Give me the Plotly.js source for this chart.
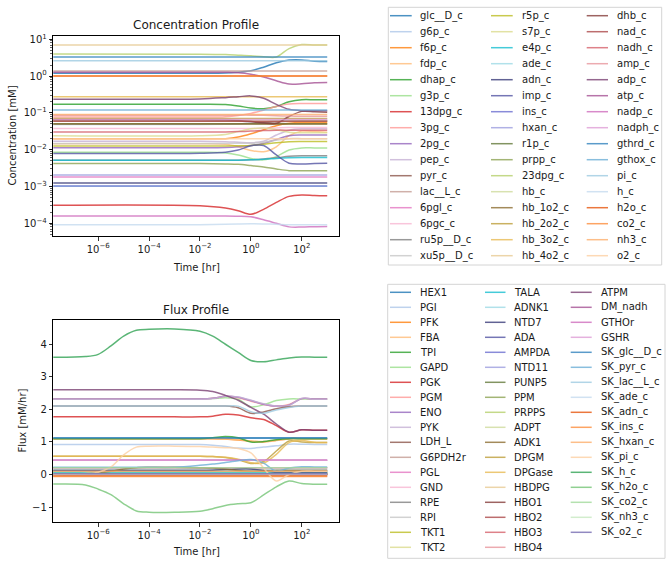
<!DOCTYPE html>
<html>
<head>
<meta charset="utf-8">
<script src="https://cdn.plot.ly/plotly-3.0.1.min.js"></script>
<style>html,body{margin:0;padding:0;background:#fff}</style>
</head>
<body>
<div id="chart" style="width:672px;height:565px"></div>
<script>
// ---------------- time grids [hr] ----------------
const concTime = [1e-8, 0.01, 0.1, 0.3162, 1, 3.162, 10, 31.62, 100, 316.2, 1000];
const fluxTime = [1e-8, 3.162e-7, 1e-6, 3.162e-6, 1e-5, 3.162e-5, 1e-4, 1e-3, 0.01, 0.03162, 0.1, 0.3162, 1, 3.162, 10, 31.62, 100, 316.2, 1000];

// decade exponents used for the log tick labels
const timeTickExp = [-6, -4, -2, 0, 2];
const concTickExp = [1, 0, -1, -2, -3, -4];

// ---------------- metabolite concentrations [mM] ----------------
const concNames = ['glc__D_c','g6p_c','f6p_c','fdp_c','dhap_c','g3p_c','13dpg_c','3pg_c','2pg_c','pep_c',
  'pyr_c','lac__L_c','6pgl_c','6pgc_c','ru5p__D_c','xu5p__D_c','r5p_c','s7p_c','e4p_c','ade_c',
  'adn_c','imp_c','ins_c','hxan_c','r1p_c','prpp_c','23dpg_c','hb_c','hb_1o2_c','hb_2o2_c',
  'hb_3o2_c','hb_4o2_c','dhb_c','nad_c','nadh_c','amp_c','adp_c','atp_c','nadp_c','nadph_c',
  'gthrd_c','gthox_c','pi_c','h_c','h2o_c','co2_c','nh3_c','o2_c'];

const conc_glc__D_c = [1.2, 1.2, 1.22, 1.28, 1.39, 1.75, 2.3, 2.72, 2.75, 2.55, 2.5];
const conc_g6p_c = [0.0486, 0.0486, 0.049, 0.05, 0.052, 0.056, 0.06, 0.062, 0.062, 0.062, 0.062];
const conc_f6p_c = [0.0198, 0.0198, 0.02, 0.022, 0.027, 0.035, 0.045, 0.052, 0.055, 0.055, 0.055];
const conc_fdp_c = [0.0146, 0.0146, 0.014, 0.012, 0.0095, 0.0088, 0.012, 0.024, 0.032, 0.031, 0.03];
const conc_dhap_c = [0.173, 0.173, 0.17, 0.155, 0.135, 0.13, 0.15, 0.2, 0.228, 0.228, 0.228];
const conc_g3p_c = [0.0085, 0.0085, 0.0082, 0.0072, 0.0058, 0.0053, 0.0065, 0.0098, 0.0112, 0.0112, 0.0112];
const conc_13dpg_c = [3.1e-4, 3.0e-4, 2.6e-4, 2.2e-4, 1.75e-4, 2.4e-4, 3.7e-4, 5.4e-4, 5.9e-4, 5.7e-4, 5.6e-4];
const conc_3pg_c = [0.077, 0.077, 0.079, 0.085, 0.097, 0.12, 0.15, 0.175, 0.18, 0.18, 0.18];
const conc_2pg_c = [0.0113, 0.0113, 0.0115, 0.012, 0.013, 0.015, 0.019, 0.024, 0.025, 0.025, 0.025];
const conc_pep_c = [0.017, 0.017, 0.0165, 0.016, 0.0155, 0.017, 0.025, 0.034, 0.037, 0.037, 0.037];
const conc_pyr_c = [0.0603, 0.0603, 0.0603, 0.06, 0.058, 0.056, 0.057, 0.059, 0.06, 0.06, 0.06];
const conc_lac__L_c = [1.37, 1.37, 1.37, 1.37, 1.37, 1.37, 1.37, 1.37, 1.37, 1.37, 1.37];
const conc_6pgl_c = [0.0018, 0.0018, 0.0018, 0.0018, 0.0018, 0.0018, 0.0018, 0.0018, 0.0018, 0.0018, 0.0018];
const conc_6pgc_c = [0.0375, 0.0375, 0.0375, 0.0376, 0.0378, 0.038, 0.039, 0.04, 0.04, 0.04, 0.04];
const conc_ru5p__D_c = [0.0052, 0.0052, 0.0052, 0.0052, 0.0053, 0.0056, 0.006, 0.0066, 0.0068, 0.0068, 0.0068];
const conc_xu5p__D_c = [0.0148, 0.0148, 0.0148, 0.0149, 0.015, 0.016, 0.018, 0.02, 0.02, 0.02, 0.02];
const conc_r5p_c = [0.0127, 0.0127, 0.0127, 0.0128, 0.013, 0.014, 0.0155, 0.0165, 0.0167, 0.0167, 0.0167];
const conc_s7p_c = [0.024, 0.024, 0.026, 0.031, 0.037, 0.039, 0.035, 0.03, 0.029, 0.029, 0.029];
const conc_e4p_c = [0.0052, 0.0052, 0.0052, 0.0052, 0.0053, 0.0055, 0.0058, 0.006, 0.0061, 0.0061, 0.0061];
const conc_ade_c = [0.00102, 0.00102, 0.00102, 0.00102, 0.00102, 0.00102, 0.00102, 0.00102, 0.00102, 0.00102, 0.00102];
const conc_adn_c = [0.00124, 0.00124, 0.00124, 0.00124, 0.00124, 0.00124, 0.00124, 0.00124, 0.00124, 0.00124, 0.00124];
const conc_imp_c = [0.0079, 0.008, 0.0085, 0.0098, 0.0128, 0.013, 0.0072, 0.0043, 0.0041, 0.0042, 0.0043];
const conc_ins_c = [0.00104, 0.00104, 0.00104, 0.00104, 0.00104, 0.00104, 0.00104, 0.00104, 0.00104, 0.00104, 0.00104];
const conc_hxan_c = [0.00204, 0.00204, 0.00204, 0.00204, 0.00204, 0.00204, 0.00204, 0.00204, 0.00204, 0.00204, 0.00204];
const conc_r1p_c = [0.0505, 0.0505, 0.0505, 0.0505, 0.0505, 0.0505, 0.0505, 0.0505, 0.0505, 0.0505, 0.0505];
const conc_prpp_c = [0.0042, 0.0042, 0.0041, 0.004, 0.0037, 0.0034, 0.003, 0.0027, 0.0027, 0.0027, 0.0027];
const conc_23dpg_c = [3.96, 3.95, 3.85, 3.7, 3.55, 3.35, 3.3, 5.6, 7.2, 7.0, 6.95];
const conc_hb_c = [0.0596, 0.0596, 0.0596, 0.0596, 0.0596, 0.0596, 0.0596, 0.0596, 0.0596, 0.0596, 0.0596];
const conc_hb_1o2_c = [0.05, 0.05, 0.05, 0.05, 0.05, 0.05, 0.05, 0.05, 0.05, 0.05, 0.05];
const conc_hb_2o2_c = [0.0704, 0.0704, 0.0704, 0.0704, 0.0704, 0.0704, 0.0704, 0.0704, 0.0704, 0.0704, 0.0704];
const conc_hb_3o2_c = [0.274, 0.274, 0.274, 0.274, 0.274, 0.274, 0.274, 0.274, 0.274, 0.274, 0.274];
const conc_hb_4o2_c = [6.95, 6.95, 6.95, 6.95, 6.95, 6.95, 6.95, 6.95, 6.95, 6.95, 6.95];
const conc_dhb_c = [0.065, 0.065, 0.064, 0.062, 0.058, 0.053, 0.052, 0.08, 0.11, 0.108, 0.105];
const conc_nad_c = [0.0589, 0.0589, 0.0589, 0.0589, 0.0589, 0.0589, 0.0589, 0.0589, 0.0589, 0.0589, 0.0589];
const conc_nadh_c = [0.0301, 0.0301, 0.0305, 0.031, 0.032, 0.033, 0.034, 0.034, 0.034, 0.034, 0.034];
const conc_amp_c = [0.0867, 0.0867, 0.0867, 0.087, 0.087, 0.086, 0.084, 0.082, 0.081, 0.081, 0.081];
const conc_adp_c = [0.237, 0.24, 0.26, 0.275, 0.29, 0.25, 0.17, 0.125, 0.115, 0.115, 0.115];
const conc_atp_c = [1.28, 1.28, 1.27, 1.24, 1.13, 0.95, 0.75, 0.61, 0.62, 0.66, 0.67];
const conc_nadp_c = [1.58e-4, 1.58e-4, 1.58e-4, 1.56e-4, 1.5e-4, 1.25e-4, 1.0e-4, 8.0e-5, 7.9e-5, 8.1e-5, 8.2e-5];
const conc_nadph_c = [0.0658, 0.0658, 0.0658, 0.0658, 0.0658, 0.0658, 0.0658, 0.0658, 0.0658, 0.0658, 0.0658];
const conc_gthrd_c = [3.28, 3.28, 3.28, 3.28, 3.28, 3.28, 3.28, 3.28, 3.28, 3.28, 3.28];
const conc_gthox_c = [0.12, 0.12, 0.12, 0.12, 0.12, 0.12, 0.12, 0.12, 0.12, 0.12, 0.12];
const conc_pi_c = [2.6, 2.6, 2.6, 2.6, 2.6, 2.6, 2.6, 2.6, 2.6, 2.6, 2.6];
const conc_h_c = [9.2e-5, 9.2e-5, 9.4e-5, 9.6e-5, 9.7e-5, 9.6e-5, 9.4e-5, 9.2e-5, 9.2e-5, 9.2e-5, 9.2e-5];
const conc_h2o_c = [1.0, 1.0, 1.0, 1.0, 1.0, 1.0, 1.0, 1.0, 1.0, 1.0, 1.0];
const conc_co2_c = [1.0, 1.0, 1.0, 1.0, 1.0, 1.0, 1.0, 1.0, 1.0, 1.0, 1.0];
const conc_nh3_c = [0.091, 0.091, 0.091, 0.091, 0.091, 0.091, 0.091, 0.091, 0.091, 0.091, 0.091];
const conc_o2_c = [0.02, 0.02, 0.02, 0.02, 0.02, 0.02, 0.02, 0.02, 0.02, 0.02, 0.02];

const concSeries = [conc_glc__D_c, conc_g6p_c, conc_f6p_c, conc_fdp_c, conc_dhap_c, conc_g3p_c, conc_13dpg_c,
  conc_3pg_c, conc_2pg_c, conc_pep_c, conc_pyr_c, conc_lac__L_c, conc_6pgl_c, conc_6pgc_c, conc_ru5p__D_c,
  conc_xu5p__D_c, conc_r5p_c, conc_s7p_c, conc_e4p_c, conc_ade_c, conc_adn_c, conc_imp_c, conc_ins_c,
  conc_hxan_c, conc_r1p_c, conc_prpp_c, conc_23dpg_c, conc_hb_c, conc_hb_1o2_c, conc_hb_2o2_c, conc_hb_3o2_c,
  conc_hb_4o2_c, conc_dhb_c, conc_nad_c, conc_nadh_c, conc_amp_c, conc_adp_c, conc_atp_c, conc_nadp_c,
  conc_nadph_c, conc_gthrd_c, conc_gthox_c, conc_pi_c, conc_h_c, conc_h2o_c, conc_co2_c, conc_nh3_c, conc_o2_c];

// ---------------- reaction fluxes [mM/hr] ----------------
const fluxNames = ['HEX1','PGI','PFK','FBA','TPI','GAPD','PGK','PGM','ENO','PYK',
  'LDH_L','G6PDH2r','PGL','GND','RPE','RPI','TKT1','TKT2','TALA','ADNK1',
  'NTD7','ADA','AMPDA','NTD11','PUNP5','PPM','PRPPS','ADPT','ADK1','DPGM',
  'DPGase','HBDPG','HBO1','HBO2','HBO3','HBO4','ATPM','DM_nadh','GTHOr','GSHR',
  'SK_glc__D_c','SK_pyr_c','SK_lac__L_c','SK_ade_c','SK_adn_c','SK_ins_c','SK_hxan_c','SK_pi_c','SK_h_c','SK_h2o_c',
  'SK_co2_c','SK_nh3_c','SK_o2_c'];

const flux_HEX1 = [1.12, 1.12, 1.12, 1.12, 1.12, 1.12, 1.12, 1.12, 1.12, 1.12, 1.12, 1.12, 1.12, 1.12, 1.12, 1.12, 1.12, 1.12, 1.12];
const flux_PGI = [0.92, 0.92, 0.92, 0.92, 0.92, 0.92, 0.92, 0.92, 0.92, 0.9, 0.86, 0.81, 0.8, 0.84, 0.88, 0.93, 0.93, 0.92, 0.92];
const flux_PFK = [1.1, 1.1, 1.1, 1.1, 1.1, 1.1, 1.1, 1.1, 1.1, 1.1, 1.09, 1.06, 1.02, 1.0, 1.05, 1.1, 1.1, 1.1, 1.1];
const flux_FBA = [1.1, 1.1, 1.1, 1.1, 1.1, 1.1, 1.1, 1.1, 1.1, 1.1, 1.09, 1.07, 1.03, 1.01, 1.04, 1.09, 1.1, 1.1, 1.1];
const flux_TPI = [1.1, 1.1, 1.1, 1.1, 1.1, 1.1, 1.1, 1.1, 1.1, 1.13, 1.17, 1.13, 1.0, 1.01, 1.07, 1.1, 1.1, 1.1, 1.1];
const flux_GAPD = [2.32, 2.32, 2.32, 2.32, 2.32, 2.32, 2.32, 2.32, 2.32, 2.33, 2.36, 2.31, 2.08, 2.14, 2.27, 2.32, 2.32, 2.32, 2.32];
const flux_PGK = [1.77, 1.77, 1.77, 1.77, 1.77, 1.77, 1.77, 1.77, 1.77, 1.79, 1.85, 1.83, 1.74, 1.69, 1.5, 1.3, 1.37, 1.36, 1.36];
const flux_PGM = [2.32, 2.32, 2.32, 2.32, 2.32, 2.32, 2.32, 2.32, 2.32, 2.34, 2.4, 2.36, 2.25, 2.15, 2.1, 2.15, 2.33, 2.32, 2.32];
const flux_ENO = [2.32, 2.32, 2.32, 2.32, 2.32, 2.32, 2.32, 2.32, 2.32, 2.34, 2.4, 2.37, 2.27, 2.16, 2.1, 2.13, 2.33, 2.32, 2.32];
const flux_PYK = [2.31, 2.31, 2.31, 2.31, 2.31, 2.31, 2.31, 2.31, 2.31, 2.33, 2.4, 2.38, 2.28, 2.17, 2.1, 2.12, 2.34, 2.31, 2.31];
const flux_LDH_L = [2.1, 2.1, 2.1, 2.1, 2.1, 2.1, 2.1, 2.1, 2.1, 2.1, 2.1, 2.05, 1.88, 1.92, 2.02, 2.08, 2.1, 2.1, 2.1];
const flux_G6PDH2r = [0.21, 0.21, 0.21, 0.21, 0.21, 0.21, 0.21, 0.21, 0.21, 0.21, 0.21, 0.21, 0.21, 0.21, 0.21, 0.21, 0.21, 0.21, 0.21];
const flux_PGL = [0.21, 0.21, 0.21, 0.21, 0.21, 0.21, 0.21, 0.21, 0.21, 0.21, 0.21, 0.21, 0.21, 0.21, 0.21, 0.21, 0.21, 0.21, 0.21];
const flux_GND = [0.21, 0.21, 0.21, 0.21, 0.21, 0.21, 0.21, 0.21, 0.21, 0.21, 0.21, 0.21, 0.21, 0.21, 0.21, 0.21, 0.21, 0.21, 0.21];
const flux_RPE = [0.13, 0.13, 0.13, 0.13, 0.13, 0.13, 0.13, 0.13, 0.13, 0.13, 0.13, 0.13, 0.13, 0.13, 0.13, 0.13, 0.13, 0.13, 0.13];
const flux_RPI = [0.07, 0.07, 0.07, 0.07, 0.07, 0.07, 0.07, 0.07, 0.07, 0.07, 0.07, 0.07, 0.07, 0.07, 0.07, 0.07, 0.07, 0.07, 0.07];
const flux_TKT1 = [0.065, 0.065, 0.065, 0.065, 0.065, 0.065, 0.065, 0.065, 0.065, 0.065, 0.065, 0.065, 0.065, 0.065, 0.065, 0.065, 0.065, 0.065, 0.065];
const flux_TKT2 = [0.065, 0.065, 0.065, 0.065, 0.065, 0.065, 0.065, 0.065, 0.065, 0.065, 0.065, 0.065, 0.065, 0.065, 0.065, 0.065, 0.065, 0.065, 0.065];
const flux_TALA = [0.065, 0.065, 0.065, 0.065, 0.065, 0.065, 0.065, 0.065, 0.065, 0.065, 0.065, 0.065, 0.065, 0.065, 0.065, 0.065, 0.065, 0.065, 0.065];
const flux_ADNK1 = [0.12, 0.12, 0.12, 0.12, 0.12, 0.12, 0.12, 0.12, 0.12, 0.12, 0.12, 0.12, 0.12, 0.12, 0.12, 0.12, 0.12, 0.12, 0.12];
const flux_NTD7 = [0.12, 0.12, 0.12, 0.12, 0.12, 0.12, 0.12, 0.12, 0.12, 0.13, 0.15, 0.17, 0.17, 0.12, 0.06, 0.05, 0.05, 0.05, 0.05];
const flux_ADA = [0.02, 0.02, 0.02, 0.02, 0.02, 0.02, 0.02, 0.02, 0.02, 0.02, 0.02, 0.02, 0.02, 0.02, 0.02, 0.02, 0.02, 0.02, 0.02];
const flux_AMPDA = [0.014, 0.014, 0.014, 0.014, 0.014, 0.014, 0.014, 0.014, 0.014, 0.014, 0.014, 0.014, 0.014, 0.014, 0.014, 0.014, 0.014, 0.014, 0.014];
const flux_NTD11 = [0.014, 0.014, 0.014, 0.014, 0.014, 0.014, 0.014, 0.014, 0.014, 0.014, 0.014, 0.014, 0.014, 0.014, 0.014, 0.014, 0.014, 0.014, 0.014];
const flux_PUNP5 = [0.01, 0.01, 0.01, 0.01, 0.01, 0.01, 0.01, 0.01, 0.01, 0.01, 0.01, 0.01, 0.01, 0.01, 0.01, 0.01, 0.01, 0.01, 0.01];
const flux_PPM = [0.01, 0.01, 0.01, 0.01, 0.01, 0.01, 0.01, 0.01, 0.01, 0.01, 0.01, 0.01, 0.01, 0.01, 0.01, 0.01, 0.01, 0.01, 0.01];
const flux_PRPPS = [0.014, 0.014, 0.014, 0.014, 0.014, 0.014, 0.014, 0.014, 0.014, 0.014, 0.014, 0.014, 0.014, 0.014, 0.014, 0.014, 0.014, 0.014, 0.014];
const flux_ADPT = [0.014, 0.014, 0.014, 0.014, 0.014, 0.014, 0.014, 0.014, 0.014, 0.014, 0.014, 0.014, 0.014, 0.014, 0.014, 0.014, 0.014, 0.014, 0.014];
const flux_ADK1 = [0.0, 0.02, 0.05, 0.1, 0.17, 0.21, 0.22, 0.22, 0.21, 0.2, 0.17, 0.12, 0.1, 0.1, 0.12, 0.12, 0.12, 0.12, 0.12];
const flux_DPGM = [0.56, 0.56, 0.56, 0.56, 0.56, 0.56, 0.56, 0.56, 0.56, 0.55, 0.52, 0.45, 0.34, 0.4, 0.72, 1.03, 1.0, 0.98, 0.98];
const flux_DPGase = [0.56, 0.56, 0.56, 0.56, 0.56, 0.56, 0.56, 0.56, 0.56, 0.55, 0.53, 0.47, 0.36, 0.35, 0.62, 0.98, 1.04, 0.99, 0.98];
const flux_HBDPG = [0, 0, 0, 0, 0, 0, 0, 0, 0, 0, 0, 0, 0, 0, 0, 0, 0, 0, 0];
const flux_HBO1 = [0, 0, 0, 0, 0, 0, 0, 0, 0, 0, 0, 0, 0, 0, 0, 0, 0, 0, 0];
const flux_HBO2 = [0, 0, 0, 0, 0, 0, 0, 0, 0, 0, 0, 0, 0, 0, 0, 0, 0, 0, 0];
const flux_HBO3 = [0, 0, 0, 0, 0, 0, 0, 0, 0, 0, 0, 0, 0, 0, 0, 0, 0, 0, 0];
const flux_HBO4 = [0, 0, 0, 0, 0, 0, 0, 0, 0, 0, 0, 0, 0, 0, 0, 0, 0, 0, 0];
const flux_ATPM = [2.6, 2.6, 2.6, 2.6, 2.6, 2.6, 2.6, 2.6, 2.59, 2.55, 2.43, 2.28, 2.06, 1.85, 1.55, 1.3, 1.37, 1.36, 1.36];
const flux_DM_nadh = [0.44, 0.44, 0.44, 0.44, 0.44, 0.44, 0.44, 0.44, 0.44, 0.44, 0.44, 0.44, 0.44, 0.44, 0.44, 0.44, 0.44, 0.44, 0.44];
const flux_GTHOr = [0.44, 0.44, 0.44, 0.44, 0.44, 0.44, 0.44, 0.44, 0.44, 0.44, 0.44, 0.44, 0.44, 0.44, 0.44, 0.44, 0.44, 0.44, 0.44];
const flux_GSHR = [0.44, 0.44, 0.44, 0.44, 0.44, 0.44, 0.44, 0.44, 0.44, 0.44, 0.44, 0.44, 0.44, 0.44, 0.44, 0.44, 0.44, 0.44, 0.44];
const flux_SK_glc__D_c = [1.12, 1.12, 1.12, 1.12, 1.12, 1.12, 1.12, 1.12, 1.12, 1.12, 1.12, 1.12, 1.12, 1.12, 1.12, 1.12, 1.12, 1.12, 1.12];
const flux_SK_pyr_c = [0.22, 0.22, 0.22, 0.22, 0.22, 0.22, 0.22, 0.22, 0.28, 0.32, 0.37, 0.42, 0.46, 0.35, 0.1, 0.2, 0.24, 0.23, 0.23];
const flux_SK_lac__L_c = [2.1, 2.1, 2.1, 2.1, 2.1, 2.1, 2.1, 2.1, 2.1, 2.1, 2.1, 2.1, 1.93, 1.88, 1.98, 2.06, 2.1, 2.1, 2.1];
const flux_SK_ade_c = [-0.014, -0.014, -0.014, -0.014, -0.014, -0.014, -0.014, -0.014, -0.014, -0.014, -0.014, -0.014, -0.014, -0.014, -0.014, -0.014, -0.014, -0.014, -0.014];
const flux_SK_adn_c = [-0.05, -0.05, -0.05, -0.05, -0.05, -0.05, -0.05, -0.05, -0.05, -0.05, -0.05, -0.05, -0.05, -0.05, -0.05, -0.05, -0.05, -0.05, -0.05];
const flux_SK_ins_c = [-0.06, -0.06, -0.06, -0.06, -0.06, -0.06, -0.06, -0.06, -0.06, -0.06, -0.06, -0.06, -0.06, -0.06, -0.06, -0.06, -0.06, -0.06, -0.06];
const flux_SK_hxan_c = [0.1, 0.1, 0.1, 0.1, 0.1, 0.1, 0.1, 0.1, 0.1, 0.1, 0.1, 0.1, 0.1, 0.1, 0.1, 0.1, 0.1, 0.1, 0.1];
const flux_SK_pi_c = [0.0, 0.03, 0.07, 0.23, 0.6, 0.84, 0.87, 0.87, 0.86, 0.84, 0.82, 0.8, 0.66, 0.2, -0.2, 0.0, 0.1, 0.1, 0.1];
const flux_SK_h_c = [3.6, 3.62, 3.69, 3.95, 4.25, 4.43, 4.46, 4.47, 4.4, 4.25, 4.0, 3.75, 3.5, 3.46, 3.52, 3.58, 3.61, 3.6, 3.6];
const flux_SK_h2o_c = [-0.3, -0.32, -0.45, -0.62, -0.9, -1.12, -1.16, -1.16, -1.13, -1.05, -0.95, -0.9, -0.87, -0.63, -0.38, -0.2, -0.28, -0.3, -0.3];
const flux_SK_co2_c = [0.21, 0.21, 0.21, 0.21, 0.21, 0.21, 0.21, 0.21, 0.21, 0.21, 0.21, 0.21, 0.21, 0.21, 0.21, 0.21, 0.21, 0.21, 0.21];
const flux_SK_nh3_c = [0.03, 0.03, 0.03, 0.03, 0.03, 0.03, 0.03, 0.03, 0.03, 0.03, 0.03, 0.03, 0.03, 0.03, 0.03, 0.03, 0.03, 0.03, 0.03];
const flux_SK_o2_c = [0.02, 0.02, 0.02, 0.02, 0.02, 0.02, 0.02, 0.02, 0.02, 0.02, 0.02, 0.02, 0.02, 0.02, 0.02, 0.02, 0.02, 0.02, 0.02];

const fluxSeries = [flux_HEX1, flux_PGI, flux_PFK, flux_FBA, flux_TPI, flux_GAPD, flux_PGK, flux_PGM, flux_ENO,
  flux_PYK, flux_LDH_L, flux_G6PDH2r, flux_PGL, flux_GND, flux_RPE, flux_RPI, flux_TKT1, flux_TKT2, flux_TALA,
  flux_ADNK1, flux_NTD7, flux_ADA, flux_AMPDA, flux_NTD11, flux_PUNP5, flux_PPM, flux_PRPPS, flux_ADPT, flux_ADK1,
  flux_DPGM, flux_DPGase, flux_HBDPG, flux_HBO1, flux_HBO2, flux_HBO3, flux_HBO4, flux_ATPM, flux_DM_nadh,
  flux_GTHOr, flux_GSHR, flux_SK_glc__D_c, flux_SK_pyr_c, flux_SK_lac__L_c, flux_SK_ade_c, flux_SK_adn_c,
  flux_SK_ins_c, flux_SK_hxan_c, flux_SK_pi_c, flux_SK_h_c, flux_SK_h2o_c, flux_SK_co2_c, flux_SK_nh3_c, flux_SK_o2_c];

// ---------------- styling ----------------
const tab20 = ['#1f77b4','#aec7e8','#ff7f0e','#ffbb78','#2ca02c','#98df8a','#d62728','#ff9896','#9467bd','#c5b0d5',
  '#8c564b','#c49c94','#e377c2','#f7b6d2','#7f7f7f','#c7c7c7','#bcbd22','#dbdb8d','#17becf','#9edae5'];
const tab20b = ['#393b79','#5254a3','#6b6ecf','#9c9ede','#637939','#8ca252','#b5cf6b','#cedb9c','#8c6d31','#bd9e39',
  '#e7ba52','#e7cb94','#843c39','#ad494a','#d6616b','#e7969c','#7b4173','#a55194','#ce6dbd','#de9ed6'];
const tab20c = ['#3182bd','#6baed6','#9ecae1','#c6dbef','#e6550d','#fd8d3c','#fdae6b','#fdd0a2','#31a354','#74c476',
  '#a1d99b','#c7e9c0','#756bb1','#9e9ac8','#bcbddc','#dadaeb','#636363','#969696','#bdbdbd','#d9d9d9'];
const palette = tab20.concat(tab20b, tab20c);
const ALPHA = 0.8;
function rgba(hex, a) {
  const n = parseInt(hex.slice(1), 16);
  return 'rgba(' + ((n >> 16) & 255) + ',' + ((n >> 8) & 255) + ',' + (n & 255) + ',' + a + ')';
}
// "10^n" label with a superscript exponent (unicode minus for negatives)
function powLabel(e) {
  return '10<sup>' + (e < 0 ? '\u2212' + Math.abs(e) : String(e)) + '</sup>';
}

const W = 672, H = 565;
const px = x => x / W;
const py = y => 1 - y / H;
const FONT = 'DejaVu Sans, Verdana, sans-serif';
const INK = '#1a1a1a';

const traces = [];
concSeries.forEach((vals, i) => {
  traces.push({x: concTime, y: vals, name: concNames[i], type: 'scatter', mode: 'lines',
    xaxis: 'x', yaxis: 'y', showlegend: false, hoverinfo: 'skip',
    line: {color: rgba(palette[i], ALPHA), width: 1.5, shape: 'spline', smoothing: 0.9}});
});
fluxSeries.forEach((vals, i) => {
  traces.push({x: fluxTime, y: vals, name: fluxNames[i], type: 'scatter', mode: 'lines',
    xaxis: 'x2', yaxis: 'y2', showlegend: false, hoverinfo: 'skip',
    line: {color: rgba(palette[i], ALPHA), width: 1.5, shape: 'spline', smoothing: 0.9}});
});

// shared axis styling
const axisBase = {
  showline: true, mirror: true, linecolor: '#000', linewidth: 1,
  ticks: 'outside', ticklen: 3.5, tickwidth: 0.8, tickcolor: '#000',
  showgrid: false, zeroline: false,
  tickfont: {family: FONT, size: 10, color: INK}
};
const xDomain = [px(53.3), px(339.3)];
const xLog = Object.assign({}, axisBase, {type: 'log', domain: xDomain, range: [-7.765, 3.475],
  tickmode: 'array', tickvals: timeTickExp.map(e => Math.pow(10, e)), ticktext: timeTickExp.map(powLabel)});

const layout = {
  width: W, height: H,
  margin: {l: 0, r: 0, t: 0, b: 0},
  paper_bgcolor: '#fff', plot_bgcolor: '#fff',
  showlegend: false,
  font: {family: FONT, size: 10, color: INK},
  xaxis: Object.assign({}, xLog, {anchor: 'y'}),
  yaxis: Object.assign({}, axisBase, {type: 'log', domain: [py(236), py(35.7)], range: [-4.345, 1.098],
    tickmode: 'array', tickvals: concTickExp.map(e => Math.pow(10, e)), ticktext: concTickExp.map(powLabel),
    anchor: 'x',
    minor: {ticks: 'outside', ticklen: 2, tickwidth: 0.6, tickcolor: '#000', dtick: 'D1', showgrid: false}}),
  xaxis2: Object.assign({}, xLog, {anchor: 'y2'}),
  yaxis2: Object.assign({}, axisBase, {type: 'linear', domain: [py(522), py(320)], range: [-1.46, 4.745],
    dtick: 1, tick0: 0, anchor: 'x2'}),
  annotations: [],
  shapes: []
};

// subplot titles and axis labels
const midX = (53.3 + 339.3) / 2;
layout.annotations.push(
  {text: 'Concentration Profile', x: px(midX), y: py(25), xref: 'paper', yref: 'paper', showarrow: false,
    xanchor: 'center', yanchor: 'middle', font: {family: FONT, size: 12, color: INK}},
  {text: 'Flux Profile', x: px(midX), y: py(310), xref: 'paper', yref: 'paper', showarrow: false,
    xanchor: 'center', yanchor: 'middle', font: {family: FONT, size: 12, color: INK}},
  {text: 'Time [hr]', x: px(midX), y: py(267), xref: 'paper', yref: 'paper', showarrow: false,
    xanchor: 'center', yanchor: 'middle', font: {family: FONT, size: 10, color: INK}},
  {text: 'Time [hr]', x: px(midX), y: py(551.5), xref: 'paper', yref: 'paper', showarrow: false,
    xanchor: 'center', yanchor: 'middle', font: {family: FONT, size: 10, color: INK}},
  {text: 'Concentration [mM]', x: px(11.5), y: py(136), xref: 'paper', yref: 'paper', showarrow: false,
    textangle: -90, xanchor: 'center', yanchor: 'middle', font: {family: FONT, size: 10, color: INK}},
  {text: 'Flux [mM/hr]', x: px(21.5), y: py(421), xref: 'paper', yref: 'paper', showarrow: false,
    textangle: -90, xanchor: 'center', yanchor: 'middle', font: {family: FONT, size: 10, color: INK}}
);

// column-major legends with framed boxes
function addLegend(names, cfg) {
  const b = cfg.box;
  layout.shapes.push({type: 'rect', xref: 'paper', yref: 'paper',
    x0: px(b[0]), x1: px(b[2]), y0: py(b[3]), y1: py(b[1]),
    line: {color: '#d4d4d4', width: 1}, fillcolor: 'rgba(255,255,255,0.8)', layer: 'above'});
  names.forEach((nm, i) => {
    const col = Math.floor(i / cfg.rows), row = i % cfg.rows;
    const c = cfg.cols[col];
    const y = cfg.y0 + row * cfg.dy;
    layout.shapes.push({type: 'line', xref: 'paper', yref: 'paper',
      x0: px(c.h0), x1: px(c.h1), y0: py(y), y1: py(y), layer: 'above',
      line: {color: rgba(palette[i], ALPHA), width: 1.5}});
    layout.annotations.push({text: nm, x: px(c.tx - 1.5), y: py(y), xref: 'paper', yref: 'paper',
      showarrow: false, xanchor: 'left', yanchor: 'middle', font: {family: FONT, size: 10, color: INK}});
  });
}
addLegend(concNames, {rows: 16, y0: 15.7, dy: 16, box: [388.3, 7.3, 661.7, 265],
  cols: [{h0: 390, h1: 411.7, tx: 420}, {h0: 491, h1: 512.7, tx: 521}, {h0: 586.7, h1: 608, tx: 616}]});
addLegend(fluxNames, {rows: 18, y0: 292.3, dy: 15, box: [387.7, 284.3, 665, 558.3],
  cols: [{h0: 390, h1: 411, tx: 419.3}, {h0: 485, h1: 505.5, tx: 513.3}, {h0: 570.7, h1: 591.7, tx: 600.7}]});

Plotly.newPlot('chart', traces, layout, {staticPlot: true, displayModeBar: false});
</script>
</body>
</html>
